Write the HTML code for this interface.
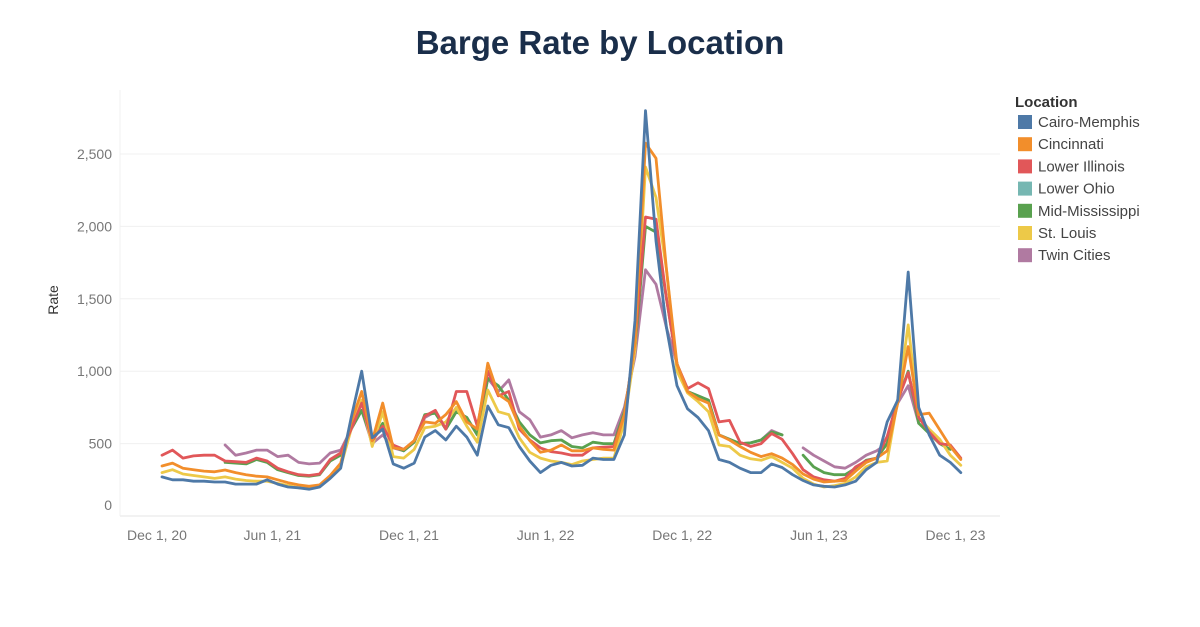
<!DOCTYPE html>
<html><head><meta charset="utf-8"><style>
body{margin:0;background:#fff;}
svg{display:block;font-family:"Liberation Sans","DejaVu Sans",sans-serif;}
</style></head><body>
<svg id="chart" width="1200" height="627" viewBox="0 0 1200 627">
<text x="600" y="54" text-anchor="middle" font-size="33" font-weight="bold" fill="#1a2e4a">Barge Rate by Location</text>
<text transform="translate(58,300) rotate(-90)" text-anchor="middle" font-size="14" fill="#333">Rate</text>
<g id="grid"></g>
<g id="yticks"></g>
<g id="xticks"></g>
<g id="lines"></g>
<g id="legend">
<text x="1015" y="107" font-size="15" font-weight="bold" fill="#333">Location</text>
</g>
</svg>
<script>
const weekIndex = Array.from({length:77},(_,i)=>i);
const yTickValues = [0,500,1000,1500,2000,2500];
const yTickLabels = ["0","500","1,000","1,500","2,000","2,500"];
const xTickLabels = ["Dec 1, 20","Jun 1, 21","Dec 1, 21","Jun 1, 22","Dec 1, 22","Jun 1, 23","Dec 1, 23"];
const xTickWeeks = [-2.5,10.5,23.5,36.5,49.5,62.5,75.5];
const seriesNames = ["Cairo-Memphis","Cincinnati","Lower Illinois","Lower Ohio","Mid-Mississippi","St. Louis","Twin Cities"];
const seriesColors = ["#4e79a7","#f28e2b","#e15759","#76b7b2","#59a14f","#edc948","#b07aa1"];
const N = null;
const cairoMemphis = [270,250,250,240,240,235,235,220,220,220,250,220,200,195,185,200,260,330,680,1000,540,600,360,330,365,545,590,525,620,545,420,760,630,610,480,380,300,350,370,345,350,400,390,390,560,1350,2800,1900,1300,900,740,680,590,390,370,330,300,300,360,335,285,245,215,205,200,215,240,320,370,650,800,1685,750,560,420,370,300];
const cincinnati = [345,365,330,320,310,305,318,300,285,275,270,250,230,215,205,215,280,365,650,860,520,780,470,460,520,650,640,700,790,650,600,1055,840,790,620,520,440,455,490,450,450,470,460,455,700,1200,2575,2470,1700,1050,860,810,780,560,525,480,440,410,430,400,355,290,255,235,240,245,310,370,400,450,780,1170,700,710,595,480,390];
const lowerIllinois = [420,455,400,415,420,420,380,375,370,400,380,330,305,285,280,290,390,435,600,780,520,620,490,460,520,690,730,600,860,860,620,1000,830,860,600,525,470,445,435,420,420,470,475,480,700,1200,2065,2050,1500,1050,880,920,880,650,660,510,480,500,570,530,430,320,270,250,240,260,340,380,400,550,800,990,680,580,500,490,400];
const lowerOhio = [N,N,N,N,N,N,N,N,N,N,N,N,N,N,N,N,N,N,N,N,N,N,N,N,N,N,N,N,N,N,N,N,N,N,N,N,N,N,N,N,N,N,N,N,N,N,N,N,N,N,N,N,N,N,N,N,N,N,N,N,N,N,N,N,N,N,N,N,N,N,N,N,N,N,N,N,N];
const midMississippi = [N,N,N,N,N,N,370,365,360,390,370,320,300,280,275,285,380,420,600,730,520,640,480,450,510,700,710,600,720,680,560,950,900,800,650,560,505,520,525,480,470,510,500,500,720,1150,2000,1960,1500,1050,860,830,800,560,530,500,505,525,580,560,N,420,340,300,285,285,330,385,400,500,800,1000,640,570,500,460,N];
const stLouis = [300,320,290,280,270,260,270,255,245,240,240,225,210,195,190,200,265,340,600,800,480,720,410,400,460,610,620,650,750,620,510,870,720,700,540,440,400,380,370,355,380,390,400,400,650,1150,2410,2200,1700,1000,850,790,720,490,480,420,395,385,410,370,330,260,220,200,210,225,270,340,370,380,800,1320,680,600,530,420,350];
const twinCities = [N,N,N,N,N,N,490,420,435,455,455,410,420,370,360,365,435,455,600,730,500,560,470,450,510,680,720,600,720,680,560,950,860,940,720,665,545,560,590,540,560,575,560,560,750,1100,1700,1600,1300,1050,860,830,800,560,530,500,505,525,590,560,N,470,420,380,340,330,370,420,450,500,780,900,640,N,N,N,N];
const allSeries = [cairoMemphis,cincinnati,lowerIllinois,lowerOhio,midMississippi,stLouis,twinCities];

const NS = "http://www.w3.org/2000/svg";
const X0 = 162, XSTEP = 10.51, Y0 = 516, YSCALE = 72.4/500;
const xScale = w => X0 + w*XSTEP;
const yScale = v => Y0 - v*YSCALE;
function mk(tag, attrs, parent){const e=document.createElementNS(NS,tag);for(const k in attrs)e.setAttribute(k,attrs[k]);parent.appendChild(e);return e;}

const grid=document.getElementById('grid'), yt=document.getElementById('yticks'), xt=document.getElementById('xticks');
yTickValues.forEach((v,i)=>{
  const y=yScale(v);
  const l=mk('line',{x1:120,x2:1000,y1:y,y2:y,stroke:v===0?'#e6e6e6':'#f0f0f0','stroke-width':1},grid);
  
  
  const t=mk('text',{x:112,y:(v===0?y-6:y+5),'text-anchor':'end','font-size':14,fill:'#777'},yt);
  t.textContent=yTickLabels[i];
  
  
});
mk('line',{x1:120,x2:120,y1:90,y2:516,stroke:'#f0f0f0'},grid);
xTickLabels.forEach((lab,i)=>{
  let x=xScale(xTickWeeks[i]);
  if(i===0)x=157;
  const t=mk('text',{x:x,y:540,'text-anchor':'middle','font-size':14,fill:'#777'},xt);
  t.textContent=lab;
  
  
});
const lines=document.getElementById('lines');
const order=[6,4,3,5,2,1,0];
order.forEach(si=>{
  const data=allSeries[si];
  let d='', pen=false;
  weekIndex.forEach(i=>{
    const v=data[i];
    if(v===null){pen=false;return;}
    d+=(pen?'L':'M')+xScale(i).toFixed(1)+' '+yScale(v).toFixed(1)+' ';
    pen=true;
  });
  if(!d)return;
  const p=mk('path',{d:d,fill:'none',stroke:seriesColors[si],'stroke-width':2.8,'stroke-linejoin':'round','stroke-linecap':'round'},lines);
  
  
});
const lg=document.getElementById('legend');
seriesNames.forEach((n,i)=>{
  const cy=122+i*22.2;
  const r=mk('rect',{x:1018,y:cy-7,width:14,height:14,fill:seriesColors[i]},lg);
  
  
  const t=mk('text',{x:1038,y:cy+5,'font-size':15,fill:'#444'},lg);
  t.textContent=n;
  
  
});
</script>
</body></html>
